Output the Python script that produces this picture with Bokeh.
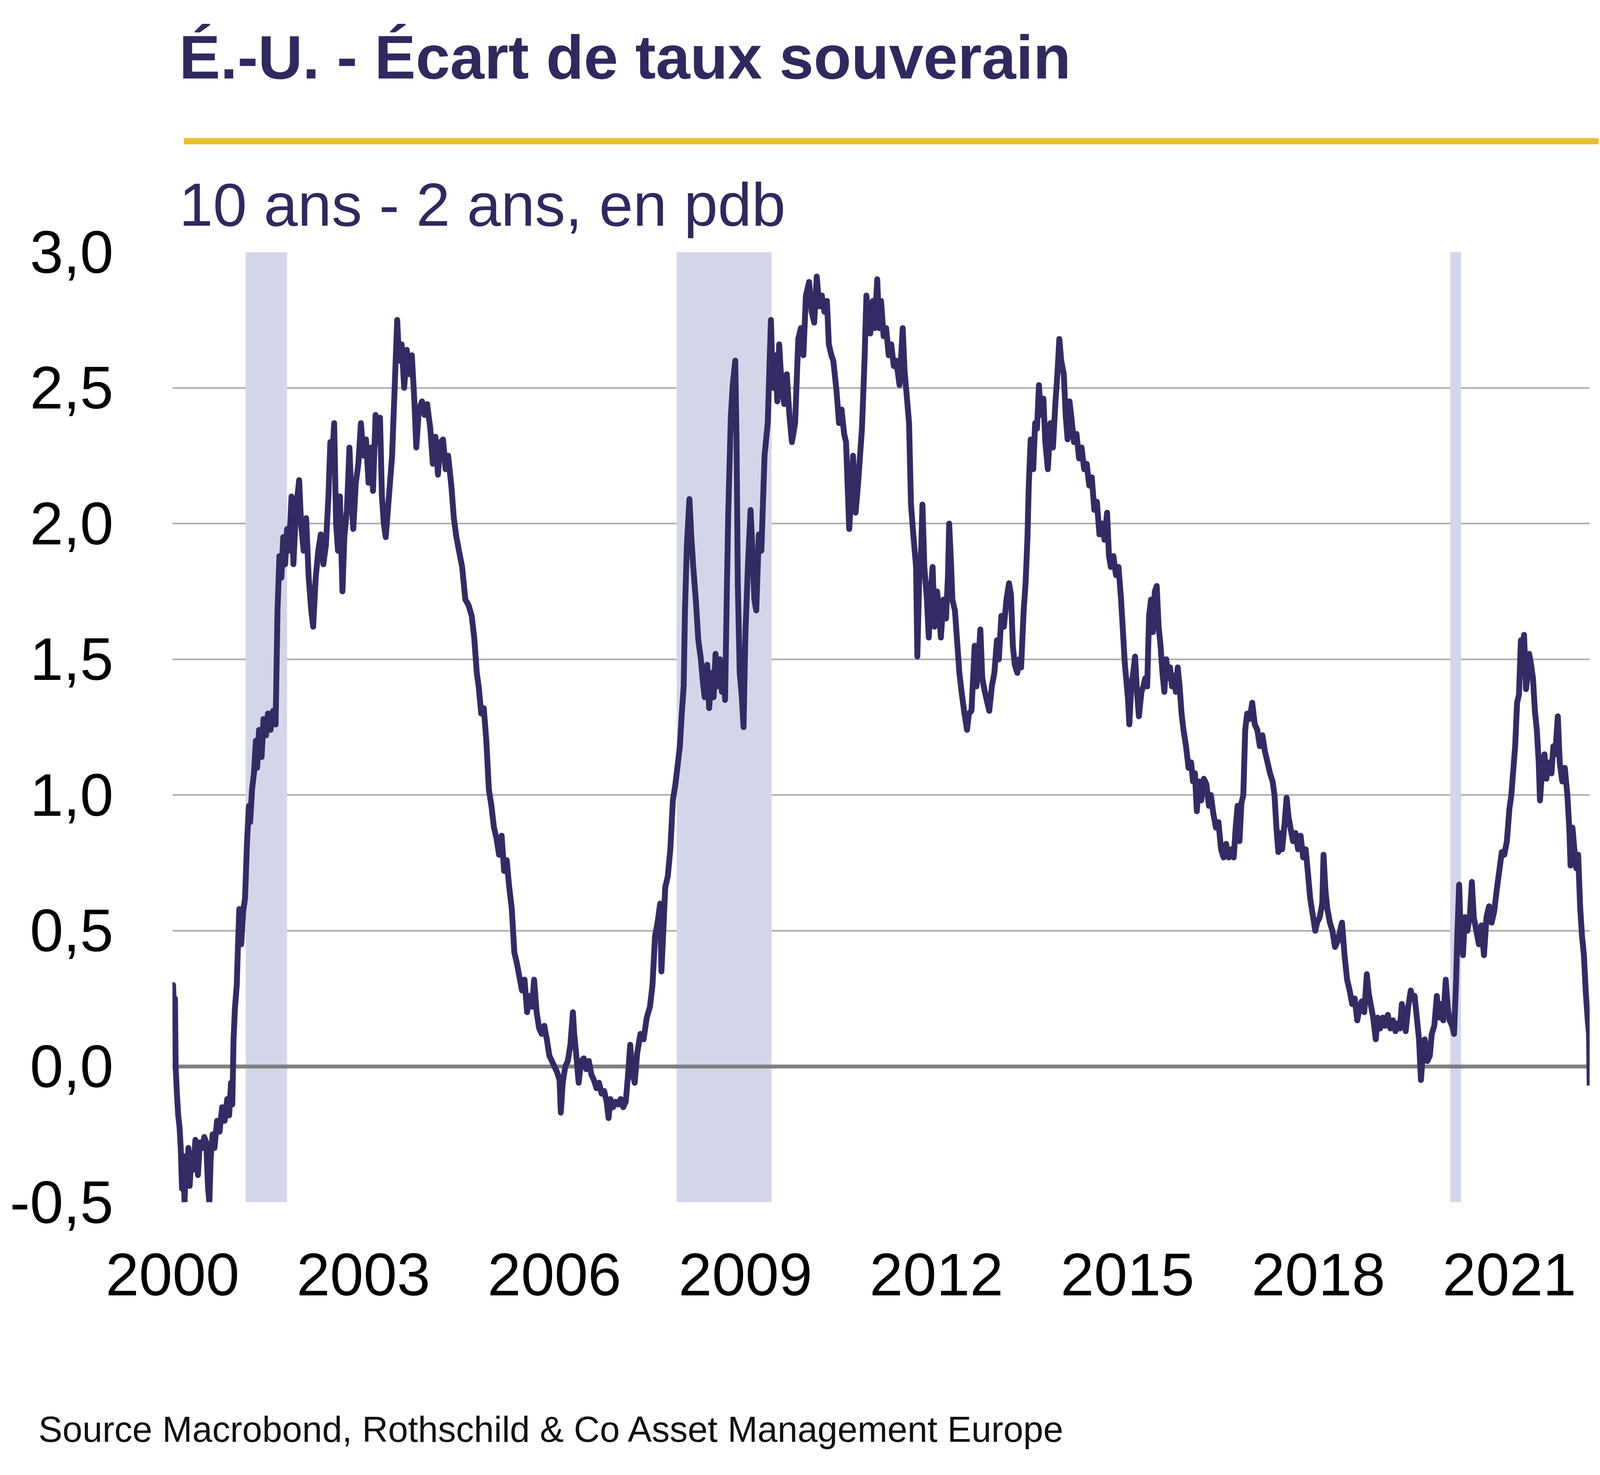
from bokeh.plotting import figure
from bokeh.models import Range1d, FixedTicker, CustomJSTickFormatter, BoxAnnotation, Span, Title
from bokeh.layouts import column
from bokeh.embed import file_html
from bokeh.resources import INLINE
from bokeh.core.properties import value

# ---------------- texts ----------------
title_text = "É.-U. - Écart de taux souverain"
subtitle_text = "10 ans - 2 ans, en pdb"
source_text = "Source Macrobond, Rothschild & Co Asset Management Europe"

# ---------------- data ----------------
# decimal years
dates = [
    2000.00, 2000.01, 2000.03, 2000.04, 2000.05, 2000.07, 2000.09, 2000.11, 2000.13, 2000.15,
    2000.17, 2000.19, 2000.21, 2000.23, 2000.25, 2000.27, 2000.30, 2000.33, 2000.36, 2000.40,
    2000.43, 2000.47, 2000.50, 2000.53, 2000.56, 2000.58, 2000.60, 2000.63, 2000.66, 2000.70,
    2000.74, 2000.78, 2000.82, 2000.86, 2000.89, 2000.92, 2000.94, 2000.96, 2000.98, 2001.01,
    2001.03, 2001.05, 2001.08, 2001.11, 2001.14, 2001.17, 2001.20, 2001.22, 2001.25, 2001.28,
    2001.31, 2001.33, 2001.36, 2001.40, 2001.43, 2001.47, 2001.50, 2001.54, 2001.58, 2001.62,
    2001.65, 2001.68, 2001.71, 2001.74, 2001.77, 2001.80, 2001.83, 2001.87, 2001.90, 2001.94,
    2001.99, 2002.02, 2002.06, 2002.10, 2002.14, 2002.18, 2002.21, 2002.25, 2002.29, 2002.33,
    2002.37, 2002.41, 2002.45, 2002.48, 2002.50, 2002.54, 2002.57, 2002.60, 2002.63, 2002.67,
    2002.70, 2002.74, 2002.78, 2002.81, 2002.84, 2002.88, 2002.92, 2002.96, 2003.00, 2003.04,
    2003.08, 2003.12, 2003.15, 2003.19, 2003.22, 2003.26, 2003.29, 2003.32, 2003.35, 2003.40,
    2003.45, 2003.49, 2003.53, 2003.56, 2003.60, 2003.64, 2003.68, 2003.72, 2003.76, 2003.80,
    2003.83, 2003.87, 2003.92, 2003.96, 2004.00, 2004.05, 2004.09, 2004.13, 2004.17, 2004.21,
    2004.25, 2004.29, 2004.33, 2004.38, 2004.42, 2004.46, 2004.50, 2004.55, 2004.60, 2004.65,
    2004.70, 2004.74, 2004.78, 2004.81, 2004.85, 2004.89, 2004.93, 2004.97, 2005.01, 2005.05,
    2005.09, 2005.13, 2005.17, 2005.21, 2005.25, 2005.29, 2005.33, 2005.37, 2005.41, 2005.45,
    2005.49, 2005.53, 2005.57, 2005.61, 2005.65, 2005.68, 2005.72, 2005.76, 2005.80, 2005.84,
    2005.88, 2005.92, 2005.96, 2006.00, 2006.04, 2006.08, 2006.10, 2006.13, 2006.17, 2006.21,
    2006.25, 2006.29, 2006.31, 2006.34, 2006.38, 2006.42, 2006.46, 2006.50, 2006.54, 2006.58,
    2006.62, 2006.66, 2006.70, 2006.74, 2006.78, 2006.82, 2006.85, 2006.88, 2006.92, 2006.96,
    2007.00, 2007.04, 2007.08, 2007.12, 2007.16, 2007.19, 2007.22, 2007.26, 2007.30, 2007.35,
    2007.40, 2007.45, 2007.50, 2007.54, 2007.58, 2007.62, 2007.66, 2007.68, 2007.71, 2007.74,
    2007.78, 2007.82, 2007.86, 2007.90, 2007.94, 2007.97, 2008.00, 2008.03, 2008.05, 2008.08,
    2008.12, 2008.15, 2008.18, 2008.22, 2008.26, 2008.30, 2008.33, 2008.36, 2008.40, 2008.43,
    2008.47, 2008.50, 2008.53, 2008.56, 2008.60, 2008.63, 2008.66, 2008.68, 2008.71, 2008.73,
    2008.77, 2008.80, 2008.84, 2008.86, 2008.88, 2008.91, 2008.94, 2008.97, 2009.00, 2009.04,
    2009.08, 2009.11, 2009.14, 2009.17, 2009.21, 2009.25, 2009.30, 2009.35, 2009.40, 2009.43,
    2009.47, 2009.50, 2009.53, 2009.57, 2009.61, 2009.65, 2009.69, 2009.73, 2009.78, 2009.83,
    2009.87, 2009.91, 2009.95, 2010.00, 2010.04, 2010.08, 2010.12, 2010.16, 2010.20, 2010.24,
    2010.28, 2010.31, 2010.35, 2010.38, 2010.43, 2010.47, 2010.51, 2010.55, 2010.58, 2010.63,
    2010.66, 2010.69, 2010.73, 2010.77, 2010.80, 2010.83, 2010.87, 2010.90, 2010.93, 2010.96,
    2011.00, 2011.03, 2011.07, 2011.10, 2011.13, 2011.17, 2011.21, 2011.25, 2011.29, 2011.33,
    2011.37, 2011.42, 2011.47, 2011.50, 2011.53, 2011.57, 2011.60, 2011.64, 2011.68, 2011.70,
    2011.73, 2011.76, 2011.78, 2011.81, 2011.85, 2011.88, 2011.91, 2011.94, 2011.97, 2012.01,
    2012.04, 2012.07, 2012.11, 2012.15, 2012.18, 2012.20, 2012.23, 2012.25, 2012.29, 2012.33,
    2012.36, 2012.40, 2012.44, 2012.48, 2012.51, 2012.55, 2012.58, 2012.60, 2012.63, 2012.66,
    2012.69, 2012.72, 2012.76, 2012.80, 2012.83, 2012.87, 2012.91, 2012.95, 2012.98, 2013.02,
    2013.06, 2013.10, 2013.14, 2013.17, 2013.20, 2013.23, 2013.27, 2013.30, 2013.33, 2013.37,
    2013.40, 2013.43, 2013.45, 2013.48, 2013.52, 2013.55, 2013.58, 2013.61, 2013.64, 2013.68,
    2013.71, 2013.75, 2013.79, 2013.83, 2013.87, 2013.90, 2013.93, 2013.96, 2014.00, 2014.03,
    2014.06, 2014.09, 2014.12, 2014.16, 2014.20, 2014.24, 2014.28, 2014.32, 2014.36, 2014.40,
    2014.44, 2014.48, 2014.52, 2014.56, 2014.60, 2014.64, 2014.68, 2014.71, 2014.74, 2014.78,
    2014.82, 2014.86, 2014.90, 2014.93, 2014.96, 2014.98, 2015.01, 2015.03, 2015.06, 2015.09,
    2015.12, 2015.15, 2015.18, 2015.22, 2015.25, 2015.28, 2015.31, 2015.34, 2015.37, 2015.40,
    2015.43, 2015.46, 2015.49, 2015.52, 2015.55, 2015.58, 2015.61, 2015.64, 2015.67, 2015.70,
    2015.73, 2015.76, 2015.79, 2015.82, 2015.85, 2015.88, 2015.92, 2015.96, 2016.00, 2016.03,
    2016.06, 2016.09, 2016.12, 2016.16, 2016.20, 2016.24, 2016.28, 2016.31, 2016.35, 2016.39,
    2016.43, 2016.47, 2016.51, 2016.55, 2016.59, 2016.63, 2016.67, 2016.70, 2016.73, 2016.76,
    2016.79, 2016.82, 2016.85, 2016.88, 2016.92, 2016.96, 2017.00, 2017.04, 2017.08, 2017.12,
    2017.16, 2017.20, 2017.24, 2017.28, 2017.31, 2017.34, 2017.37, 2017.40, 2017.43, 2017.47,
    2017.50, 2017.53, 2017.56, 2017.60, 2017.64, 2017.68, 2017.72, 2017.76, 2017.80, 2017.84,
    2017.87, 2017.91, 2017.95, 2017.98, 2018.02, 2018.06, 2018.08, 2018.11, 2018.14, 2018.18,
    2018.22, 2018.26, 2018.30, 2018.34, 2018.37, 2018.41, 2018.45, 2018.49, 2018.53, 2018.57,
    2018.61, 2018.65, 2018.68, 2018.72, 2018.76, 2018.79, 2018.82, 2018.86, 2018.90, 2018.93,
    2018.97, 2019.01, 2019.05, 2019.09, 2019.13, 2019.17, 2019.21, 2019.25, 2019.28, 2019.31,
    2019.34, 2019.37, 2019.41, 2019.45, 2019.48, 2019.51, 2019.55, 2019.58, 2019.61, 2019.64,
    2019.67, 2019.71, 2019.75, 2019.78, 2019.82, 2019.86, 2019.89, 2019.92, 2019.96, 2020.00,
    2020.03, 2020.06, 2020.10, 2020.13, 2020.16, 2020.18, 2020.21, 2020.24, 2020.27, 2020.30,
    2020.34, 2020.38, 2020.41, 2020.44, 2020.48, 2020.52, 2020.56, 2020.60, 2020.64, 2020.68,
    2020.72, 2020.76, 2020.80, 2020.84, 2020.88, 2020.92, 2020.96, 2021.00, 2021.03, 2021.06,
    2021.09, 2021.12, 2021.15, 2021.18, 2021.21, 2021.23, 2021.26, 2021.29, 2021.31, 2021.34,
    2021.37, 2021.40, 2021.43, 2021.46, 2021.48, 2021.51, 2021.55, 2021.58, 2021.62, 2021.66,
    2021.69, 2021.72, 2021.76, 2021.79, 2021.83, 2021.87, 2021.91, 2021.94, 2021.96, 2021.99,
    2022.02, 2022.05, 2022.08, 2022.11, 2022.14, 2022.17, 2022.20, 2022.23, 2022.25, 2022.26,
]

# 10y - 2y spread, percentage points
spread = [
    0.28, 0.30, 0.18, 0.25, 0.00, -0.10, -0.18, -0.22, -0.30, -0.45,
    -0.33, -0.50, -0.35, -0.42, -0.30, -0.44, -0.32, -0.38, -0.27, -0.40,
    -0.28, -0.30, -0.26, -0.28, -0.45, -0.50, -0.34, -0.25, -0.30, -0.20,
    -0.24, -0.15, -0.20, -0.12, -0.18, -0.06, -0.14, 0.10, 0.21, 0.30,
    0.45, 0.58, 0.45, 0.57, 0.62, 0.82, 0.96, 0.90, 1.02, 1.08,
    1.20, 1.10, 1.24, 1.14, 1.28, 1.22, 1.30, 1.24, 1.31, 1.26,
    1.68, 1.88, 1.80, 1.95, 1.85, 1.98, 1.90, 2.10, 1.85, 2.05,
    2.16, 2.00, 1.90, 2.02, 1.80, 1.68, 1.62, 1.80, 1.90, 1.96,
    1.85, 1.92, 2.10, 2.30, 2.20, 2.37, 2.00, 1.90, 2.10, 1.75,
    1.95, 2.05, 2.28, 2.10, 1.98, 2.15, 2.22, 2.37, 2.25, 2.31,
    2.15, 2.28, 2.12, 2.40, 2.30, 2.39, 2.10, 2.00, 1.95, 2.10,
    2.25, 2.50, 2.75, 2.60, 2.66, 2.50, 2.64, 2.55, 2.62, 2.45,
    2.28, 2.42, 2.45, 2.40, 2.44, 2.35, 2.22, 2.32, 2.18, 2.30,
    2.31, 2.20, 2.25, 2.14, 2.02, 1.95, 1.90, 1.84, 1.72, 1.70,
    1.66, 1.58, 1.45, 1.40, 1.30, 1.32, 1.20, 1.02, 0.96, 0.88,
    0.84, 0.78, 0.85, 0.72, 0.76, 0.66, 0.58, 0.42, 0.38, 0.33,
    0.28, 0.32, 0.20, 0.26, 0.22, 0.32, 0.20, 0.14, 0.12, 0.15,
    0.10, 0.04, 0.02, 0.00, -0.02, -0.05, -0.17, -0.06, 0.00, 0.02,
    0.08, 0.20, 0.12, 0.05, -0.06, 0.02, 0.03, -0.01, 0.02, -0.03,
    -0.05, -0.08, -0.06, -0.10, -0.09, -0.13, -0.19, -0.12, -0.15, -0.13,
    -0.14, -0.12, -0.15, -0.13, -0.02, 0.08, -0.02, -0.06, 0.05, 0.12,
    0.10, 0.18, 0.22, 0.30, 0.48, 0.53, 0.60, 0.35, 0.50, 0.66,
    0.70, 0.80, 0.98, 1.04, 1.12, 1.18, 1.30, 1.40, 1.68, 1.92,
    2.09, 1.95, 1.84, 1.72, 1.57, 1.50, 1.42, 1.36, 1.48, 1.32,
    1.45, 1.36, 1.52, 1.40, 1.50, 1.38, 1.48, 1.35, 1.78, 2.04,
    2.39, 2.51, 2.60, 2.31, 1.78, 1.45, 1.37, 1.25, 1.60, 1.85,
    2.05, 1.90, 1.72, 1.68, 1.96, 1.90, 2.25, 2.37, 2.75, 2.50,
    2.62, 2.45, 2.66, 2.50, 2.44, 2.55, 2.40, 2.30, 2.37, 2.68,
    2.72, 2.62, 2.84, 2.89, 2.78, 2.74, 2.91, 2.80, 2.84, 2.78,
    2.82, 2.66, 2.62, 2.60, 2.49, 2.37, 2.42, 2.33, 2.30, 1.98,
    2.10, 2.25, 2.04, 2.15, 2.25, 2.35, 2.60, 2.84, 2.75, 2.70,
    2.82, 2.72, 2.90, 2.72, 2.82, 2.69, 2.72, 2.62, 2.66, 2.58,
    2.60, 2.51, 2.72, 2.56, 2.48, 2.37, 2.07, 1.95, 1.84, 1.51,
    1.80, 1.90, 2.07, 1.84, 1.72, 1.58, 1.75, 1.84, 1.62, 1.75,
    1.68, 1.58, 1.72, 1.65, 1.80, 2.00, 1.85, 1.72, 1.68, 1.55,
    1.45, 1.37, 1.30, 1.24, 1.30, 1.31, 1.45, 1.55, 1.40, 1.50,
    1.61, 1.43, 1.38, 1.34, 1.31, 1.40, 1.45, 1.57, 1.50, 1.66,
    1.62, 1.72, 1.78, 1.74, 1.55, 1.48, 1.45, 1.50, 1.47, 1.68,
    1.78, 1.95, 2.14, 2.31, 2.20, 2.37, 2.35, 2.51, 2.40, 2.46,
    2.30, 2.20, 2.37, 2.28, 2.45, 2.55, 2.68, 2.60, 2.55, 2.40,
    2.31, 2.45, 2.39, 2.30, 2.33, 2.24, 2.28, 2.20, 2.22, 2.14,
    2.17, 2.05, 2.08, 1.96, 2.00, 1.94, 2.04, 1.88, 1.84, 1.88,
    1.81, 1.84, 1.72, 1.60, 1.48, 1.43, 1.35, 1.26, 1.40, 1.45,
    1.51, 1.38, 1.29, 1.38, 1.40, 1.43, 1.40, 1.66, 1.72, 1.60,
    1.75, 1.77, 1.62, 1.55, 1.45, 1.38, 1.50, 1.43, 1.47, 1.40,
    1.44, 1.38, 1.47, 1.40, 1.30, 1.24, 1.18, 1.10, 1.12, 1.05,
    1.08, 0.94, 1.05, 0.98, 1.06, 1.04, 0.96, 1.00, 0.93, 0.88,
    0.90, 0.80, 0.77, 0.82, 0.77, 0.80, 0.77, 0.88, 0.96, 0.83,
    0.97, 1.00, 1.24, 1.30, 1.28, 1.34, 1.26, 1.24, 1.18, 1.22,
    1.16, 1.12, 1.08, 1.05, 1.00, 0.88, 0.79, 0.86, 0.80, 0.90,
    0.99, 0.92, 0.88, 0.83, 0.86, 0.80, 0.85, 0.77, 0.80, 0.70,
    0.62, 0.56, 0.50, 0.53, 0.55, 0.60, 0.78, 0.65, 0.58, 0.53,
    0.50, 0.44, 0.46, 0.50, 0.53, 0.41, 0.32, 0.28, 0.23, 0.25,
    0.17, 0.22, 0.24, 0.20, 0.34, 0.27, 0.23, 0.18, 0.10, 0.18,
    0.14, 0.18, 0.15, 0.19, 0.14, 0.17, 0.13, 0.16, 0.14, 0.23,
    0.18, 0.13, 0.22, 0.28, 0.25, 0.26, 0.17, 0.10, -0.05, 0.05,
    0.10, 0.02, 0.04, 0.12, 0.15, 0.26, 0.18, 0.23, 0.17, 0.32,
    0.22, 0.17, 0.15, 0.12, 0.30, 0.47, 0.67, 0.45, 0.41, 0.55,
    0.50, 0.56, 0.68, 0.55, 0.50, 0.45, 0.52, 0.41, 0.55, 0.59,
    0.53, 0.57, 0.65, 0.72, 0.79, 0.78, 0.83, 0.95, 1.00, 1.09,
    1.18, 1.34, 1.37, 1.57, 1.55, 1.59, 1.39, 1.45, 1.52, 1.48,
    1.43, 1.31, 1.24, 1.12, 0.98, 1.08, 1.15, 1.06, 1.12, 1.08,
    1.18, 1.15, 1.29, 1.12, 1.05, 1.10, 1.00, 0.88, 0.74, 0.88,
    0.80, 0.73, 0.78, 0.59, 0.48, 0.41, 0.27, 0.17, 0.12, -0.07,
]

# US recessions (shaded), decimal years
rec_start = [2001.15, 2007.92, 2020.07]
rec_end = [2001.80, 2009.41, 2020.24]

x_ticks = [2000, 2003, 2006, 2009, 2012, 2015, 2018, 2021]
y_ticks = [-0.5, 0.0, 0.5, 1.0, 1.5, 2.0, 2.5, 3.0]

# ---------------- styles ----------------
NAVY = "#2E2A5E"
LINE = "#332C64"
GOLD = "#E9BF2F"
SHADE = "#D3D6E8"
GRID = "#A9A9A9"
ZERO = "#808080"
FONT = "Liberation Sans"

W = 4200
HEAD_H = 375
MAIN_H = 3177
FOOT_H = 209
TOP_BORDER = 270


def no_align(fig):
    try:
        fig.frame_align = False
    except Exception:
        pass


def blank(h):
    f = figure(width=W, height=h, x_range=Range1d(0, W), y_range=Range1d(h, 0),
               output_backend="svg", toolbar_location=None, min_border=0,
               x_axis_type=None, y_axis_type=None, outline_line_color=None, title=None)
    f.grid.visible = False
    no_align(f)
    return f


# ---------------- header: title and gold rule ----------------
head = blank(HEAD_H)
head.text(x=[458], y=[145], text=[title_text], text_font=value(FONT), text_font_style="bold",
          text_font_size="158px", text_color=NAVY, text_baseline="alphabetic", text_align="left")
head.quad(left=[470], right=[4092], top=[353], bottom=[369], fill_color=GOLD, line_color=None)

# ---------------- main chart ----------------
p = figure(width=W, height=MAIN_H, x_range=Range1d(2000.0, 2022.26), y_range=Range1d(-0.5, 3.0),
           output_backend="svg", toolbar_location=None, title=None,
           min_border_left=441, min_border_right=W - 4069, min_border_top=TOP_BORDER,
           min_border_bottom=MAIN_H - TOP_BORDER - 2433, outline_line_color=None)
no_align(p)
p.background_fill_color = "white"
p.border_fill_color = "white"

# subtitle, in the panel above the plot area
p.add_layout(Title(text=subtitle_text, align="left", offset=17, standoff=70,
                   text_font=FONT, text_font_size="156px", text_font_style="normal",
                   text_color=NAVY), "above")

p.xgrid.visible = False
p.ygrid.grid_line_color = GRID
p.ygrid.grid_line_width = 4

for ax in (p.xaxis[0], p.yaxis[0]):
    ax.axis_line_color = None
    ax.major_tick_line_color = None
    ax.minor_tick_line_color = None
    ax.major_tick_out = 0
    ax.major_tick_in = 0
    ax.minor_tick_out = 0
    ax.minor_tick_in = 0
    ax.major_label_text_font = FONT
    ax.major_label_text_font_size = "154px"
    ax.major_label_text_color = "black"

p.xaxis.ticker = FixedTicker(ticks=x_ticks)
p.xaxis.formatter = CustomJSTickFormatter(code="return tick.toFixed(0);")
p.xaxis.major_label_standoff = 132
p.yaxis.ticker = FixedTicker(ticks=y_ticks)
p.yaxis.formatter = CustomJSTickFormatter(code="return tick.toFixed(1).replace('.', ',');")
p.yaxis.major_label_standoff = 151

for s, e in zip(rec_start, rec_end):
    p.add_layout(BoxAnnotation(left=s, right=e, fill_color=SHADE, fill_alpha=1.0,
                               line_color=None, level="underlay"))

p.add_layout(Span(location=0, dimension="width", line_color=ZERO, line_width=10, level="underlay"))

p.line(dates, spread, line_color=LINE, line_width=15, line_join="round")

# ---------------- footer: source ----------------
foot = blank(FOOT_H)
foot.text(x=[98], y=[107], text=[source_text], text_font=value(FONT),
          text_font_size="92px", text_color="#111111", text_baseline="alphabetic", text_align="left")

layout = column(head, p, foot, spacing=0)

with open("out.html", "w") as f:
    f.write(file_html(layout, INLINE))
